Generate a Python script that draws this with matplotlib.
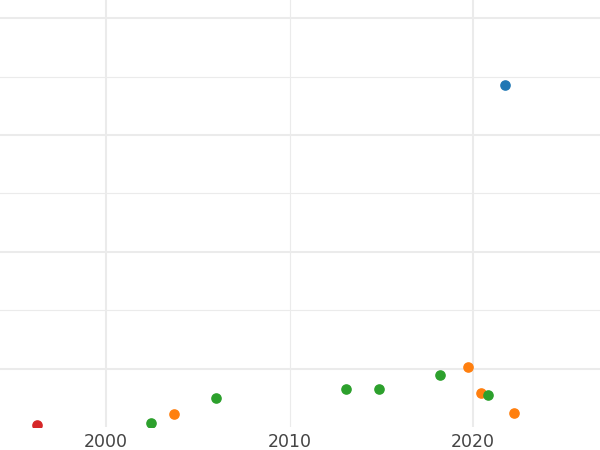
import matplotlib.pyplot as plt
from matplotlib.ticker import FixedLocator

# points (year, value in grid units)
blue_x = [2021.72]
blue_y = [5.855]
orange_x = [2003.71, 2019.75, 2020.44, 2022.26]
orange_y = [0.214, 1.026, 0.59, 0.239]
green_x = [2002.45, 2005.99, 2013.05, 2014.85, 2018.2, 2020.79]
green_y = [0.077, 0.496, 0.65, 0.658, 0.897, 0.547]
red_x = [1996.21]
red_y = [0.04]

x_ticks = [2000, 2010, 2020]
x_tick_labels = ['2000', '2010', '2020']

fig = plt.figure(figsize=(6, 4.5), dpi=100)
ax = fig.add_axes([0, 23 / 450, 1, 427 / 450])

ax.set_xlim(1994.22, 2026.92)
ax.set_ylim(0.0, 7.31)

grid_col = '#ebebeb'
ax.set_xticks(x_ticks)
ax.set_xticklabels(x_tick_labels)
ax.yaxis.set_major_locator(FixedLocator([1, 3, 5, 7]))
ax.yaxis.set_minor_locator(FixedLocator([2, 4, 6]))
ax.set_yticklabels([])

ax.grid(which='major', axis='both', color=grid_col, linewidth=1.5)
ax.grid(which='minor', axis='y', color=grid_col, linewidth=0.8)
# 2010 line is drawn thinner than 2000 / 2020
for tick, line in zip(x_ticks, ax.get_xgridlines()):
    if tick == 2010:
        line.set_linewidth(0.8)

ax.tick_params(axis='both', which='both', length=0)
ax.tick_params(axis='x', labelsize=12.5, labelcolor='#444444', pad=4)
for s in ax.spines.values():
    s.set_visible(False)
ax.set_axisbelow(True)

size = 44
ax.scatter(blue_x, blue_y, s=size, color='#1f77b4', zorder=3, clip_on=True)
ax.scatter(orange_x, orange_y, s=size, color='#ff7f0e', zorder=3)
ax.scatter(green_x, green_y, s=size, color='#2ca02c', zorder=3)
ax.scatter(red_x, red_y, s=size, color='#d62728', zorder=3)

fig.savefig('out.png', dpi=100)
